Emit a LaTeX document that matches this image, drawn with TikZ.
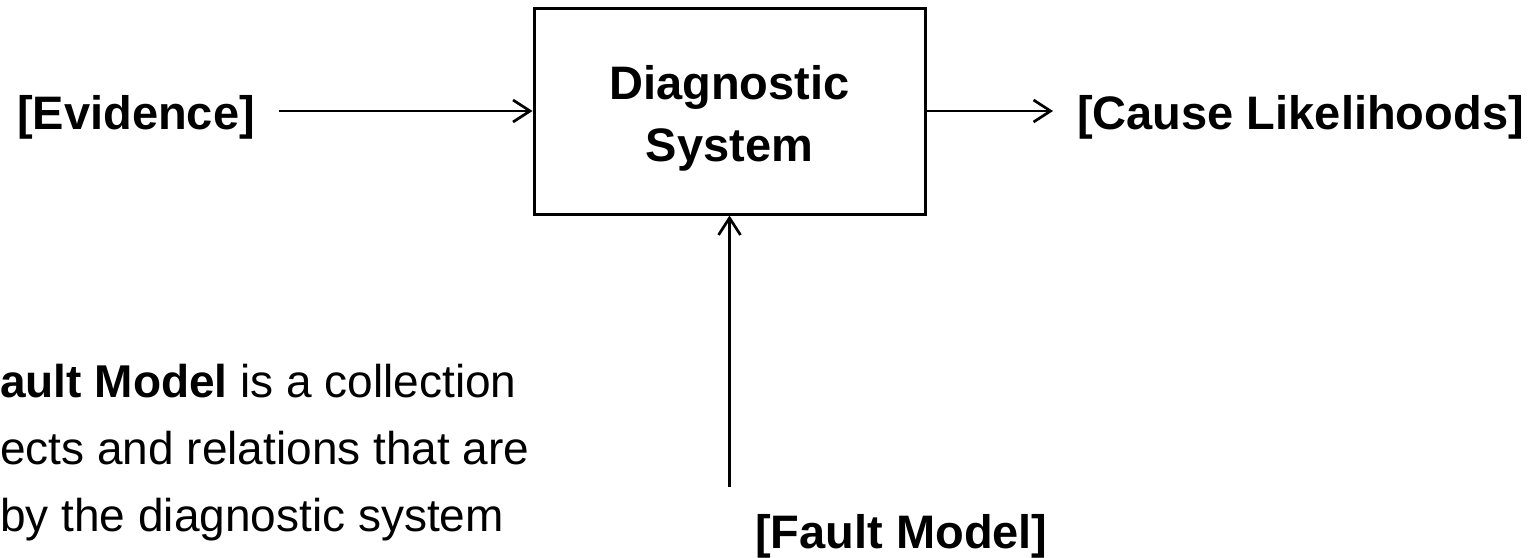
\documentclass[tikz,border=0pt]{standalone}
\usepackage{fontspec}
\setmainfont{Liberation Sans}
\usetikzlibrary{arrows.meta,positioning}

\tikzset{
  term/.style={font=\fontsize{47}{56}\selectfont\bfseries, inner sep=0pt},
  sysbox/.style={draw, line width=3pt, minimum width=391pt, minimum height=206pt},
  systext/.style={align=center, inner sep=0pt, font=\fontsize{47}{62}\selectfont\bfseries},
  flow/.style={line width=2.7pt, -{Straight Barb[length=17pt,width=22pt]}},
  note/.style={font=\fontsize{46}{55}\selectfont, inner sep=0pt, anchor=base west}
}

\begin{document}
\begin{tikzpicture}[x=1pt, y=-1pt]
    \useasboundingbox (0,0) rectangle (1539,557);
    \clip (0,0) rectangle (1539,557);

    % the system and its inputs and output
    \node[sysbox] (sys) at (729.5,111) {};
    \node[systext] (systxt) at ([yshift=-7pt]sys.center) {Diagnostic\\System};
    \node[term, anchor=base west] (evid) at (17,129) {[Evidence]};
    \node[term, anchor=base east] (cause) at (1524,129) {[Cause Likelihoods]};
    \node[term, anchor=base west] (fault) at (755,548) {[Fault Model]};

    \coordinate (ev) at ([xshift=24pt]evid.east);
    \coordinate (cl) at ([xshift=-24pt]cause.west);
    \coordinate (fm) at ([yshift=27pt]fault.north);

    \draw[flow] (sys.west -| ev) -- (sys.west);
    \draw[flow] (sys.east) -- (sys.east -| cl);
    \draw[flow] (fm -| sys.south) -- (sys.south);

    % note, at the left edge
    \node[note] (noteA) at (0,397) {\textbf{ault Model} is a collection};
    \node[note] (noteB) at (0,464) {ects and relations that are};
    \node[note] (noteC) at (0,531) {by the diagnostic system};
\end{tikzpicture}
\end{document}
